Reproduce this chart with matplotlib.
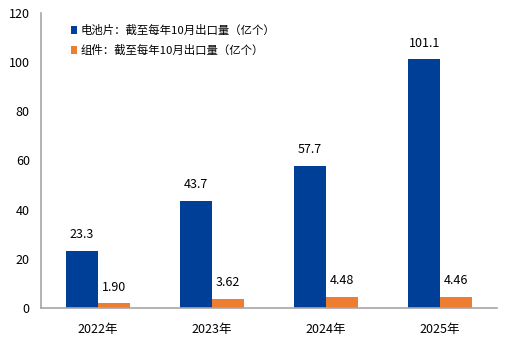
import numpy as np
import matplotlib
matplotlib.use("Agg")
import matplotlib.pyplot as plt

plt.rcParams['font.family'] = ['Noto Sans CJK SC', 'DejaVu Sans']

years = ['2022年', '2023年', '2024年', '2025年']
cells = [23.3, 43.7, 57.7, 101.1]
modules = [1.90, 3.62, 4.48, 4.46]
cell_labels = ['23.3', '43.7', '57.7', '101.1']
module_labels = ['1.90', '3.62', '4.48', '4.46']

blue = '#003F98'
orange = '#ED7D31'

fig = plt.figure(figsize=(5.11, 3.41), dpi=100)
ax = fig.add_axes([0.080, 0.097, 0.893, 0.865])

x = np.arange(len(years))
w = 0.28
ax.bar(x - w / 2, cells, w, color=blue, label='电池片：截至每年10月出口量（亿个）')
ax.bar(x + w / 2, modules, w, color=orange, label='组件：截至每年10月出口量（亿个）')

for xi, v, s in zip(x, cells, cell_labels):
    ax.annotate(s, (xi - w / 2, v), xytext=(0, 7), textcoords='offset points',
                ha='center', va='bottom', fontsize=9)
for xi, v, s in zip(x, modules, module_labels):
    ax.annotate(s, (xi + w / 2, v), xytext=(0, 7), textcoords='offset points',
                ha='center', va='bottom', fontsize=9)

ax.set_xlim(-0.5, 3.5)
ax.set_ylim(0, 120)
ax.set_yticks(range(0, 121, 20))
ax.set_xticks(x)
ax.set_xticklabels(years)
ax.tick_params(length=0, labelsize=9, pad=11)
ax.tick_params(axis='y', pad=8)

for side in ['top', 'right']:
    ax.spines[side].set_visible(False)
for side in ['left', 'bottom']:
    ax.spines[side].set_color('#A6A6A6')
    ax.spines[side].set_linewidth(1.2)

ax.legend(loc='upper left', bbox_to_anchor=(0.055, 0.975), frameon=False,
          fontsize=8.2, handlelength=0.6, handleheight=0.6, handletextpad=0.3,
          labelspacing=0.75, borderaxespad=0)

fig.savefig('out.png', dpi=100)
